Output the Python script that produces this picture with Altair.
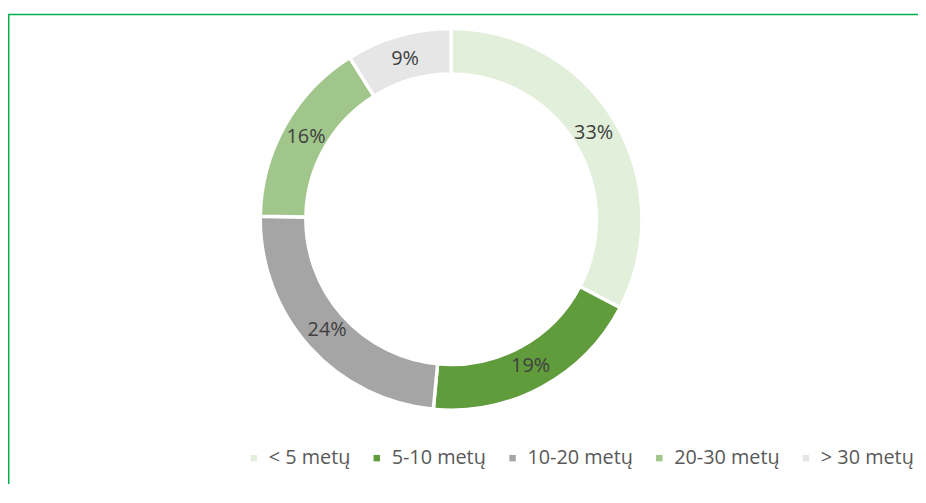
import altair as alt
import pandas as pd

categories = ["< 5 metų", "5-10 metų", "10-20 metų", "20-30 metų", "> 30 metų"]
values = [33, 19, 24, 16, 9]
colors = ["#e2efda", "#609b3c", "#a5a5a5", "#a1c68c", "#e6e6e6"]
labels = [f"{v}%" for v in values]

df = pd.DataFrame({
    "cat": categories,
    "value": values,
    "label": labels,
    "idx": list(range(len(categories))),
})

W, H = 894, 422
TOTAL_W, TOTAL_H = 918, 478
PAD_R, PAD_B = TOTAL_W - W, TOTAL_H - H
FRAME = "#00b050"

color = alt.Color(
    "cat:N",
    scale=alt.Scale(domain=categories, range=colors),
    legend=alt.Legend(
        title=None,
        orient="none",
        legendX=238,
        legendY=442,
        direction="horizontal",
        symbolType="square",
        symbolSize=42,
        symbolStrokeWidth=0,
        labelFont="Open Sans",
        labelFontSize=20,
        labelColor="#595959",
        labelOffset=5,
        columnPadding=16,
        labelLimit=300,
        padding=0,
    ),
)

theta = alt.Theta("value:Q", stack=True)
order = alt.Order("idx:Q")

base = alt.Chart(df)

arcs = base.mark_arc(
    outerRadius=192.5, innerRadius=146.5, stroke="white", strokeWidth=3.5
).encode(theta=theta, color=color, order=order)

text = base.mark_text(
    radius=168, font="Open Sans", fontSize=20, color="#404040"
).encode(theta=theta, text="label:N", order=order)

frame_df = pd.DataFrame({"a": [0]})
top_rule = alt.Chart(frame_df).mark_rule(color=FRAME, strokeWidth=1.5).encode(
    x=alt.value(0), x2=alt.value(TOTAL_W), y=alt.value(4.5)
)
left_rule = alt.Chart(frame_df).mark_rule(color=FRAME, strokeWidth=1.5).encode(
    x=alt.value(0.75), y=alt.value(4.5), y2=alt.value(TOTAL_H)
)

chart = alt.layer(arcs, text, top_rule, left_rule).properties(
    width=W,
    height=H,
    autosize=alt.AutoSizeParams(type="none"),
    padding={"left": 0, "top": 0, "right": PAD_R, "bottom": PAD_B},
    background="white",
).configure_view(stroke=None)

chart.save("out.html", embed_options={"renderer": "svg", "actions": False})
